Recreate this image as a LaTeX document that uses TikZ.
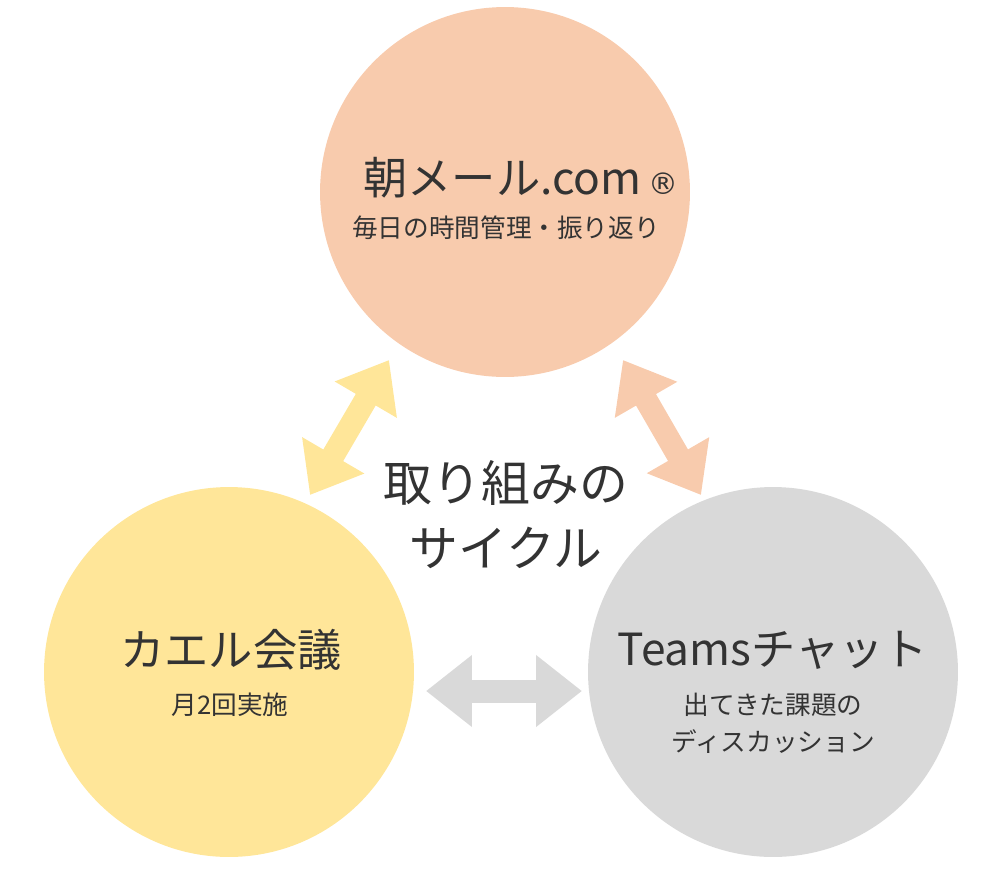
\documentclass[tikz,border=0pt]{standalone}
\usepackage{fontspec}
\setmainfont{Noto Sans CJK JP}
\newfontfamily\kigoufont{DejaVu Sans}
\usetikzlibrary{positioning,arrows.meta}
\definecolor{mailpeach}{HTML}{F8CBAD}
\definecolor{kaeruyellow}{HTML}{FFE699}
\definecolor{teamsgray}{HTML}{D9D9D9}
\definecolor{moji}{HTML}{333333}

\begin{document}
\begin{tikzpicture}[x=0.02cm, y=-0.02cm,
    maru/.style={circle, minimum size=7.4cm, inner sep=0pt},
    midashi/.style={text=moji, font=\fontsize{25.2}{28}\selectfont, inner sep=0pt},
    setsumei/.style={text=moji, font=\fontsize{14.6}{21}\selectfont, align=center, inner sep=0pt},
    yajirushi/.style={line width=0.46cm,
                      {Triangle[width=1.38cm,length=0.92cm]}-{Triangle[width=1.38cm,length=0.92cm]}}]
    \useasboundingbox (0,0) rectangle (1000,869);
    % three circles
    \node[maru, fill=mailpeach] (mail) at (505,192) {};
    \node[maru, fill=kaeruyellow] (kaeru) at (229,672) {};
    \node[maru, fill=teamsgray] (teams) at (773,672) {};
    % labels
    \node[midashi] (mailtitle) at (521,178) {朝メール.com\,{\kigoufont\fontsize{17}{18}\selectfont ®}};
    \node[setsumei] (mailsub) at (506,228) {毎日の時間管理・振り返り};
    \node[midashi] (kaerutitle) at (231,650) {カエル会議};
    \node[setsumei] (kaerusub) at (230,705) {月2回実施};
    \node[midashi] (teamstitle) at (773,650) {Teamsチャット};
    \node[setsumei] (teamssub) at (773,723) {出てきた課題の\\ディスカッション};
    \node[text=moji, font=\fontsize{27.8}{36.9}\selectfont, align=center, inner sep=0pt] (cycle) at (506,515) {取り組みの\\サイクル};
    % double arrows
    \coordinate (kaeru-a) at (310,495); \coordinate (mail-a) at (389,360);
    \coordinate (mail-b) at (623,360); \coordinate (teams-b) at (701,495);
    \coordinate (kaeru-c) at (426,691); \coordinate (teams-c) at (582,691);
    \draw[yajirushi, kaeruyellow] (kaeru-a) -- (mail-a);
    \draw[yajirushi, mailpeach] (mail-b) -- (teams-b);
    \draw[yajirushi, teamsgray] (kaeru-c) -- (teams-c);
\end{tikzpicture}
\end{document}
